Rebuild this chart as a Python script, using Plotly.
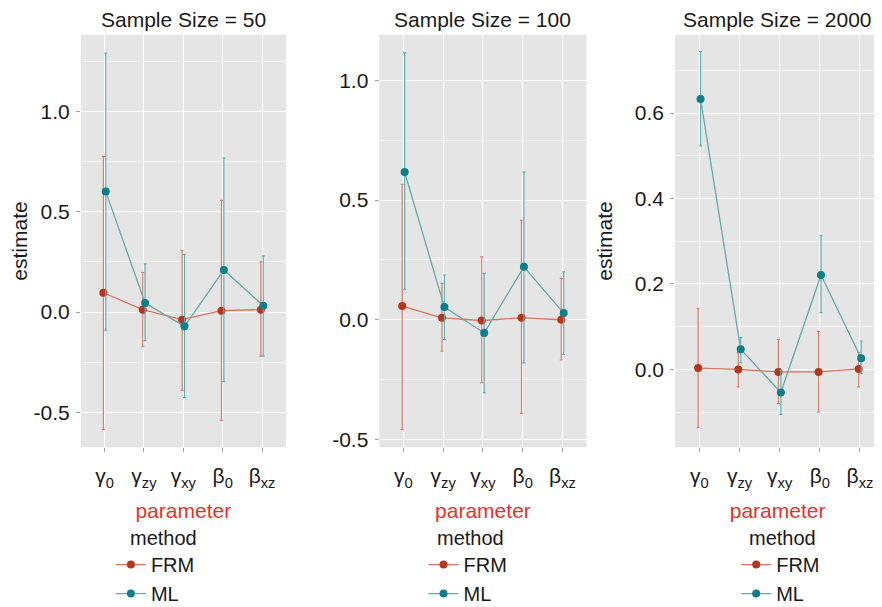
import plotly.graph_objects as go

# figure is placed by the page at (8, 8); geometry below is given in page pixels
W, H = 882, 620
OFF = 8

# ---------------- data ----------------
param_labels = ["γ<sub>0</sub>", "γ<sub>zy</sub>", "γ<sub>xy</sub>", "β<sub>0</sub>", "β<sub>xz</sub>"]
param_index = [0, 1, 2, 3, 4]
sample_sizes = [50, 100, 2000]
methods = ["FRM", "ML"]

# Sample size 50
frm_est_50 = [0.096, 0.012, -0.038, 0.007, 0.012]
frm_lo_50 = [-0.586, -0.170, -0.390, -0.540, -0.220]
frm_hi_50 = [0.776, 0.198, 0.308, 0.556, 0.250]
ml_est_50 = [0.600, 0.045, -0.071, 0.210, 0.031]
ml_lo_50 = [-0.090, -0.142, -0.426, -0.347, -0.220]
ml_hi_50 = [1.290, 0.240, 0.287, 0.767, 0.280]

# Sample size 100
frm_est_100 = [0.057, 0.008, -0.003, 0.008, 0.000]
frm_lo_100 = [-0.459, -0.131, -0.263, -0.391, -0.168]
frm_hi_100 = [0.566, 0.152, 0.263, 0.415, 0.173]
ml_est_100 = [0.617, 0.053, -0.055, 0.221, 0.028]
ml_lo_100 = [0.127, -0.083, -0.304, -0.180, -0.145]
ml_hi_100 = [1.116, 0.187, 0.194, 0.618, 0.200]

# Sample size 2000
frm_est_2000 = [0.003, 0.000, -0.006, -0.006, 0.001]
frm_lo_2000 = [-0.136, -0.041, -0.080, -0.100, -0.041]
frm_hi_2000 = [0.142, 0.039, 0.070, 0.089, 0.040]
ml_est_2000 = [0.633, 0.047, -0.054, 0.221, 0.026]
ml_lo_2000 = [0.523, 0.016, -0.106, 0.133, -0.010]
ml_hi_2000 = [0.744, 0.075, -0.002, 0.313, 0.066]

y_tickvals_50 = [-0.5, 0.0, 0.5, 1.0]
y_ticktext_50 = ["-0.5", "0.0", "0.5", "1.0"]
y_minor_50 = [-0.25, 0.25, 0.75, 1.25]
y_tickvals_100 = [-0.5, 0.0, 0.5, 1.0]
y_ticktext_100 = ["-0.5", "0.0", "0.5", "1.0"]
y_minor_100 = [-0.25, 0.25, 0.75]
y_tickvals_2000 = [0.0, 0.2, 0.4, 0.6]
y_ticktext_2000 = ["0.0", "0.2", "0.4", "0.6"]
y_minor_2000 = [-0.1, 0.1, 0.3, 0.5, 0.7]

panels = [
    dict(n=50, est=(frm_est_50, ml_est_50), lo=(frm_lo_50, ml_lo_50), hi=(frm_hi_50, ml_hi_50),
         tv=y_tickvals_50, tt=y_ticktext_50, minor=y_minor_50),
    dict(n=100, est=(frm_est_100, ml_est_100), lo=(frm_lo_100, ml_lo_100), hi=(frm_hi_100, ml_hi_100),
         tv=y_tickvals_100, tt=y_ticktext_100, minor=y_minor_100),
    dict(n=2000, est=(frm_est_2000, ml_est_2000), lo=(frm_lo_2000, ml_lo_2000), hi=(frm_hi_2000, ml_hi_2000),
         tv=y_tickvals_2000, tt=y_ticktext_2000, minor=y_minor_2000),
]

# ---------------- styles / layout geometry (page pixels) ----------------
x_px = [(80, 285), (379, 586), (675, 880)]
y_px = (35, 450)
y_ranges = [(-0.673, 1.381), (-0.532, 1.190), (-0.182, 0.783)]
x_ranges = [(-0.6, 4.6), (-0.6, 4.6), (-0.6, 4.5)]
ytitle_text = ["estimate", "", "estimate"]
ytitle_standoff = [11, 10, 16]
legend_left_px = [110, 423, 736]
method_title_px = [127, 434, 747]

marker_colors = {"FRM": "#B5361F", "ML": "#0E7F88"}
line_colors = {"FRM": "#D9725F", "ML": "#66A9A9"}
err_colors = {"FRM": "#DE7B68", "ML": "#5FB2B4"}
dodge = {"FRM": -0.03, "ML": 0.03}

FONT = "Liberation Sans, Arial, Helvetica, sans-serif"
FS = 21
FS_LEG = 20
BG = "#E5E5E5"
TXT = "#1a1a1a"


def fx(px):
    return (px - OFF) / W


def fy(py):
    return 1 - (py - OFF) / H


fig = go.Figure()
layout = dict(
    width=W, height=H,
    margin=dict(l=0, r=0, t=0, b=0),
    paper_bgcolor="white",
    font=dict(family=FONT, size=FS, color=TXT),
    annotations=[],
    shapes=[],
)

for i, p in enumerate(panels):
    k = "" if i == 0 else str(i + 1)
    xa, ya = "x" + k, "y" + k
    leg = "legend" + k
    for j, m in enumerate(methods):
        est = p["est"][j]
        lo = p["lo"][j]
        hi = p["hi"][j]
        fig.add_trace(go.Scatter(
            x=[v + dodge[m] for v in param_index],
            y=est,
            mode="lines+markers",
            name=m,
            legend=leg,
            xaxis=xa, yaxis=ya,
            line=dict(color=line_colors[m], width=1.3),
            marker=dict(color=marker_colors[m], size=8),
            error_y=dict(
                type="data", symmetric=False,
                array=[h - e for h, e in zip(hi, est)],
                arrayminus=[e - l for e, l in zip(est, lo)],
                color=err_colors[m], thickness=1.2, width=1.5,
            ),
            cliponaxis=False,
        ))

    x0, x1 = x_px[i]
    layout["xaxis" + k] = dict(
        domain=[fx(x0), fx(x1)], anchor=ya, range=list(x_ranges[i]),
        tickmode="array", tickvals=param_index, ticktext=param_labels,
        showgrid=True, gridcolor="white", gridwidth=1,
        zeroline=False, showline=False,
        ticks="outside", ticklen=4, tickcolor="#A0A0A0",
        ticklabelstandoff=6,
        tickfont=dict(size=FS, color=TXT),
        title=dict(text="parameter", font=dict(size=FS, color="#E3342A"), standoff=13),
        fixedrange=True,
    )
    layout["yaxis" + k] = dict(
        domain=[fy(y_px[1]), fy(y_px[0])], anchor=xa, range=list(y_ranges[i]),
        tickmode="array", tickvals=p["tv"], ticktext=p["tt"],
        showgrid=True, gridcolor="white", gridwidth=1,
        minor=dict(tickmode="array", tickvals=p["minor"], showgrid=True,
                   gridcolor="#F2F2F2", gridwidth=1, ticks=""),
        zeroline=False, showline=False,
        ticks="outside", ticklen=4, tickcolor="#A0A0A0",
        ticklabelstandoff=2,
        tickfont=dict(size=FS, color=TXT),
        title=dict(text=ytitle_text[i], font=dict(size=FS), standoff=ytitle_standoff[i]),
        fixedrange=True,
    )
    layout[leg] = dict(
        x=fx(legend_left_px[i]), xanchor="left",
        y=fy(617), yanchor="bottom",
        bgcolor="rgba(0,0,0,0)", borderwidth=0,
        font=dict(size=FS_LEG, color=TXT),
        itemwidth=30, tracegroupgap=0,
    )
    layout["annotations"].append(dict(
        text="Sample Size = %d" % p["n"], x=fx((x0 + x1) / 2), y=fy(20),
        xref="paper", yref="paper", xanchor="center", yanchor="middle",
        showarrow=False, font=dict(size=FS, color=TXT), borderpad=0,
    ))
    layout["annotations"].append(dict(
        text="method", x=fx(method_title_px[i]), y=fy(541),
        xref="paper", yref="paper", xanchor="left", yanchor="middle",
        showarrow=False, font=dict(size=FS_LEG, color=TXT),
    ))
    # panel background
    layout["shapes"].append(dict(
        type="rect", xref="paper", yref="paper",
        x0=fx(x0), x1=fx(x1), y0=fy(y_px[1]), y1=fy(y_px[0]),
        fillcolor=BG, line=dict(width=0), layer="below",
    ))

fig.update_layout(**layout)
fig.write_html("out.html")
